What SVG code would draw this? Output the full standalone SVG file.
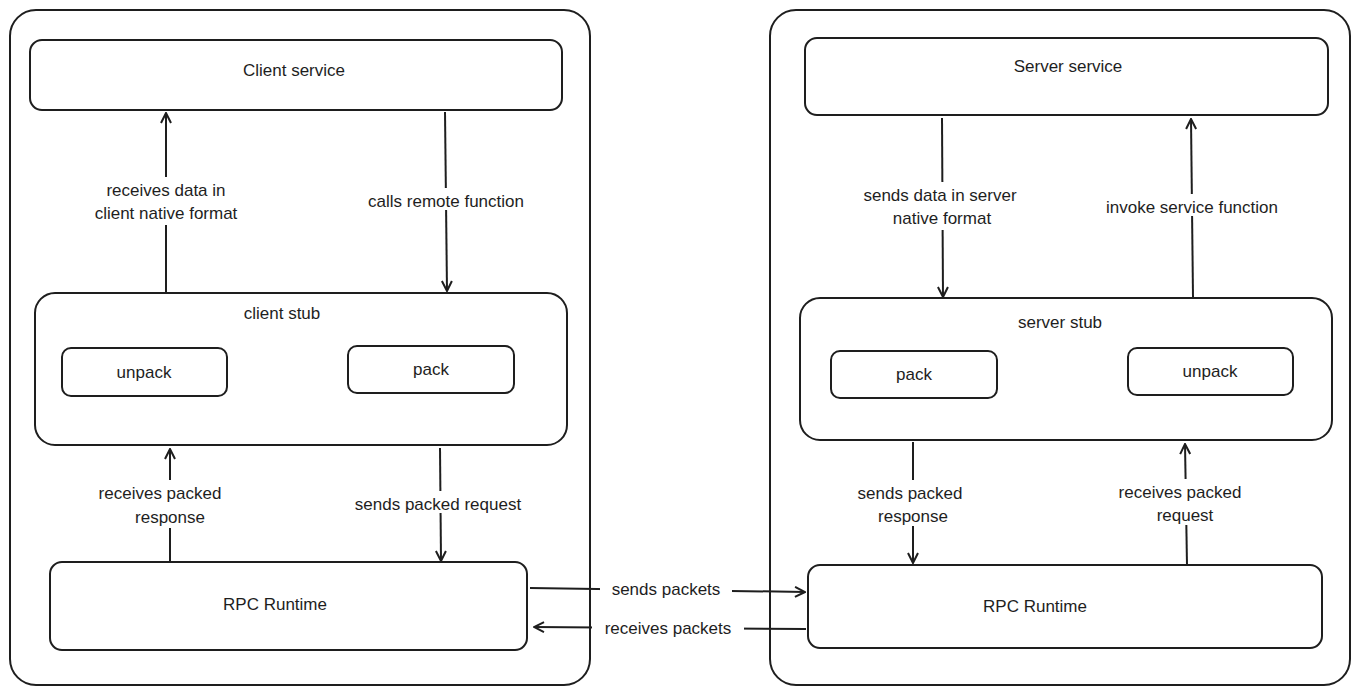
<svg xmlns="http://www.w3.org/2000/svg" width="1358" height="695" viewBox="0 0 1358 695">
<defs>
<marker id="ah" viewBox="0 0 12 12" refX="11" refY="6" markerWidth="12" markerHeight="12" markerUnits="userSpaceOnUse" orient="auto">
<path d="M1,1 L11,6 L1,11" fill="none" stroke="#1e1e1e" stroke-width="2"/>
</marker>
<style>
.box{fill:#fff;stroke:#1e1e1e;stroke-width:2}
.t{font-family:"Liberation Sans",sans-serif;font-size:17px;fill:#1e1e1e;text-anchor:middle}
.c{stroke:#1e1e1e;stroke-width:2;fill:none;marker-end:url(#ah)}
.bg{fill:#fff}
</style>
</defs>
<rect width="1358" height="695" fill="#fff"/>
<g id="client-container"><rect class="box" x="10" y="10" width="580" height="675" rx="26"/></g>
<g id="server-container"><rect class="box" x="770" y="10" width="580" height="675" rx="26"/></g>
<g id="client-service"><rect class="box" x="30" y="40" width="532" height="70" rx="12"/><text class="t" x="294" y="76">Client service</text></g>
<g id="client-stub"><rect class="box" x="35" y="293" width="532" height="152" rx="20"/><text class="t" x="282" y="319">client stub</text></g>
<g id="client-unpack"><rect class="box" x="62" y="348" width="165" height="48" rx="9"/><text class="t" x="144" y="378">unpack</text></g>
<g id="client-pack"><rect class="box" x="348" y="346" width="166" height="47" rx="9"/><text class="t" x="431" y="375">pack</text></g>
<g id="client-rpc"><rect class="box" x="50" y="562" width="477" height="88" rx="12"/><text class="t" x="275" y="610">RPC Runtime</text></g>
<g id="server-service"><rect class="box" x="805" y="38" width="523" height="77" rx="12"/><text class="t" x="1068" y="72">Server service</text></g>
<g id="server-stub"><rect class="box" x="800" y="298" width="532" height="142" rx="20"/><text class="t" x="1060" y="328">server stub</text></g>
<g id="server-pack"><rect class="box" x="831" y="351" width="166" height="47" rx="9"/><text class="t" x="914" y="380">pack</text></g>
<g id="server-unpack"><rect class="box" x="1128" y="348" width="165" height="47" rx="9"/><text class="t" x="1210" y="377">unpack</text></g>
<g id="server-rpc"><rect class="box" x="808" y="565" width="514" height="83" rx="12"/><text class="t" x="1035" y="612">RPC Runtime</text></g>
<g id="connectors">
<line class="c" x1="166" y1="293" x2="166" y2="113"/>
<line class="c" x1="445" y1="112" x2="447" y2="291"/>
<line class="c" x1="170" y1="562" x2="170" y2="449"/>
<line class="c" x1="440" y1="448" x2="441" y2="561"/>
<line class="c" x1="942" y1="118" x2="943" y2="297"/>
<line class="c" x1="1193" y1="297" x2="1191" y2="119"/>
<line class="c" x1="913" y1="442" x2="913" y2="563"/>
<line class="c" x1="1187" y1="565" x2="1185" y2="444"/>
<line class="c" x1="530" y1="588" x2="805" y2="592"/>
<line class="c" x1="806" y1="629" x2="534" y2="627"/>
<rect class="bg" x="600" y="576" width="132" height="22"/>
<rect class="bg" x="592" y="616" width="152" height="22"/>
<rect class="bg" x="90" y="177" width="152" height="48"/>
<rect class="bg" x="364" y="188" width="164" height="22"/>
<rect class="bg" x="95" y="480" width="132" height="48"/>
<rect class="bg" x="352" y="491" width="172" height="22"/>
<rect class="bg" x="860" y="182" width="162" height="48"/>
<rect class="bg" x="1102" y="194" width="180" height="22"/>
<rect class="bg" x="855" y="480" width="112" height="46"/>
<rect class="bg" x="1115" y="479" width="130" height="46"/>
<text class="t" x="166" y="196">receives data in</text>
<text class="t" x="166" y="219">client native format</text>
<text class="t" x="446" y="207">calls remote function</text>
<text class="t" x="160" y="499">receives packed</text>
<text class="t" x="170" y="523">response</text>
<text class="t" x="438" y="510">sends packed request</text>
<text class="t" x="940" y="201">sends data in server</text>
<text class="t" x="942" y="224">native format</text>
<text class="t" x="1192" y="213">invoke service function</text>
<text class="t" x="910" y="499">sends packed</text>
<text class="t" x="913" y="522">response</text>
<text class="t" x="1180" y="498">receives packed</text>
<text class="t" x="1185" y="521">request</text>
<text class="t" x="666" y="595">sends packets</text>
<text class="t" x="668" y="634">receives packets</text>
</g>
</svg>
